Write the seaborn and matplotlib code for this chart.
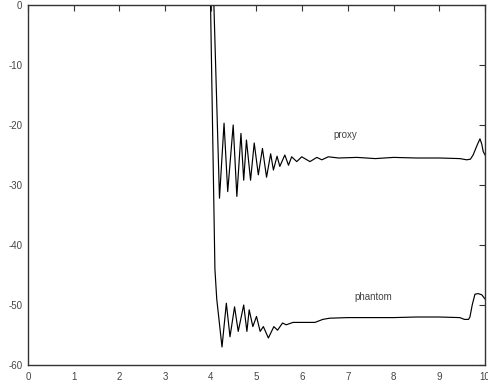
import matplotlib
matplotlib.use("Agg")
import matplotlib.pyplot as plt
import seaborn as sns
import pandas as pd

proxy_x = [4.06, 4.19, 4.29, 4.37, 4.49, 4.57, 4.66, 4.72, 4.78, 4.87, 4.95, 5.04, 5.13,
           5.22, 5.31, 5.37, 5.45, 5.51, 5.62, 5.70, 5.77, 5.88, 5.99, 6.17, 6.32, 6.43,
           6.57, 6.8, 7.2, 7.6, 8.0, 8.5, 9.0, 9.45, 9.6, 9.68, 9.74, 9.82, 9.89, 9.93,
           9.96, 10.0]
proxy_y = [2.0, -32.2, -19.7, -31.1, -20.0, -31.9, -21.4, -29.2, -22.5, -29.2, -23.0, -28.3,
           -23.9, -28.7, -24.8, -27.5, -25.2, -26.9, -25.0, -26.7, -25.3, -26.1, -25.3, -26.1,
           -25.4, -25.8, -25.3, -25.5, -25.4, -25.6, -25.4, -25.5, -25.5, -25.6, -25.8,
           -25.7, -25.0, -23.5, -22.3, -23.2, -24.4, -25.0]

phantom_x = [3.99, 4.09, 4.13, 4.245, 4.34, 4.42, 4.52, 4.60, 4.72, 4.79, 4.84, 4.92, 5.00,
             5.08, 5.15, 5.26, 5.38, 5.46, 5.57, 5.65, 5.8, 6.0, 6.28, 6.45, 6.6, 7.0, 7.5,
             8.0, 8.5, 9.0, 9.45, 9.55, 9.64, 9.67, 9.72, 9.78, 9.85, 9.93, 10.0]
phantom_y = [2.0, -44.0, -49.0, -57.0, -49.7, -55.3, -50.3, -54.4, -50.0, -54.4, -50.8, -53.6,
             -51.9, -54.4, -53.6, -55.5, -53.6, -54.2, -53.0, -53.3, -52.9, -52.9, -52.9,
             -52.4, -52.2, -52.1, -52.1, -52.1, -52.0, -52.0, -52.1, -52.4, -52.4, -52.0,
             -50.0, -48.2, -48.1, -48.3, -49.0]

labels = ["proxy", "phantom"]
label_pos = [(6.94, -21.7), (7.55, -48.7)]

x_ticks = [0, 1, 2, 3, 4, 5, 6, 7, 8, 9, 10]
y_ticks = [0, -10, -20, -30, -40, -50, -60]

sns.set_style("white")
plt.rcParams['font.family'] = ['Liberation Sans', 'DejaVu Sans']

fig = plt.figure(figsize=(4.89, 3.85), dpi=100)
ax = fig.add_axes([28 / 489, 1 - 365 / 385, 457 / 489, 360 / 385])

df_p = pd.DataFrame({"x": proxy_x, "y": proxy_y})
df_h = pd.DataFrame({"x": phantom_x, "y": phantom_y})
sns.lineplot(data=df_p, x="x", y="y", ax=ax, color="black", lw=0.85, sort=False)
sns.lineplot(data=df_h, x="x", y="y", ax=ax, color="black", lw=0.85, sort=False)

for lab, (lx, ly) in zip(labels, label_pos):
    ax.text(lx, ly, lab, fontsize=7, color="#444444", ha="center", va="center")

ax.set_xlim(0, 10)
ax.set_ylim(-60, 0)
ax.set_xticks(x_ticks)
ax.set_yticks(y_ticks)
ax.set_xticklabels([str(t) for t in x_ticks])
ax.set_yticklabels([str(t) for t in y_ticks])
ax.set_xlabel("")
ax.set_ylabel("")
ax.tick_params(direction="in", length=4, width=0.8, colors="#333333",
               labelsize=7, labelcolor="#444444", top=True, right=True)
ax.tick_params(axis="x", pad=5)
ax.tick_params(axis="y", pad=4)
for s in ax.spines.values():
    s.set_visible(True)
    s.set_color("#333333")
    s.set_linewidth(1.0)

fig.savefig("out.png", dpi=100)
